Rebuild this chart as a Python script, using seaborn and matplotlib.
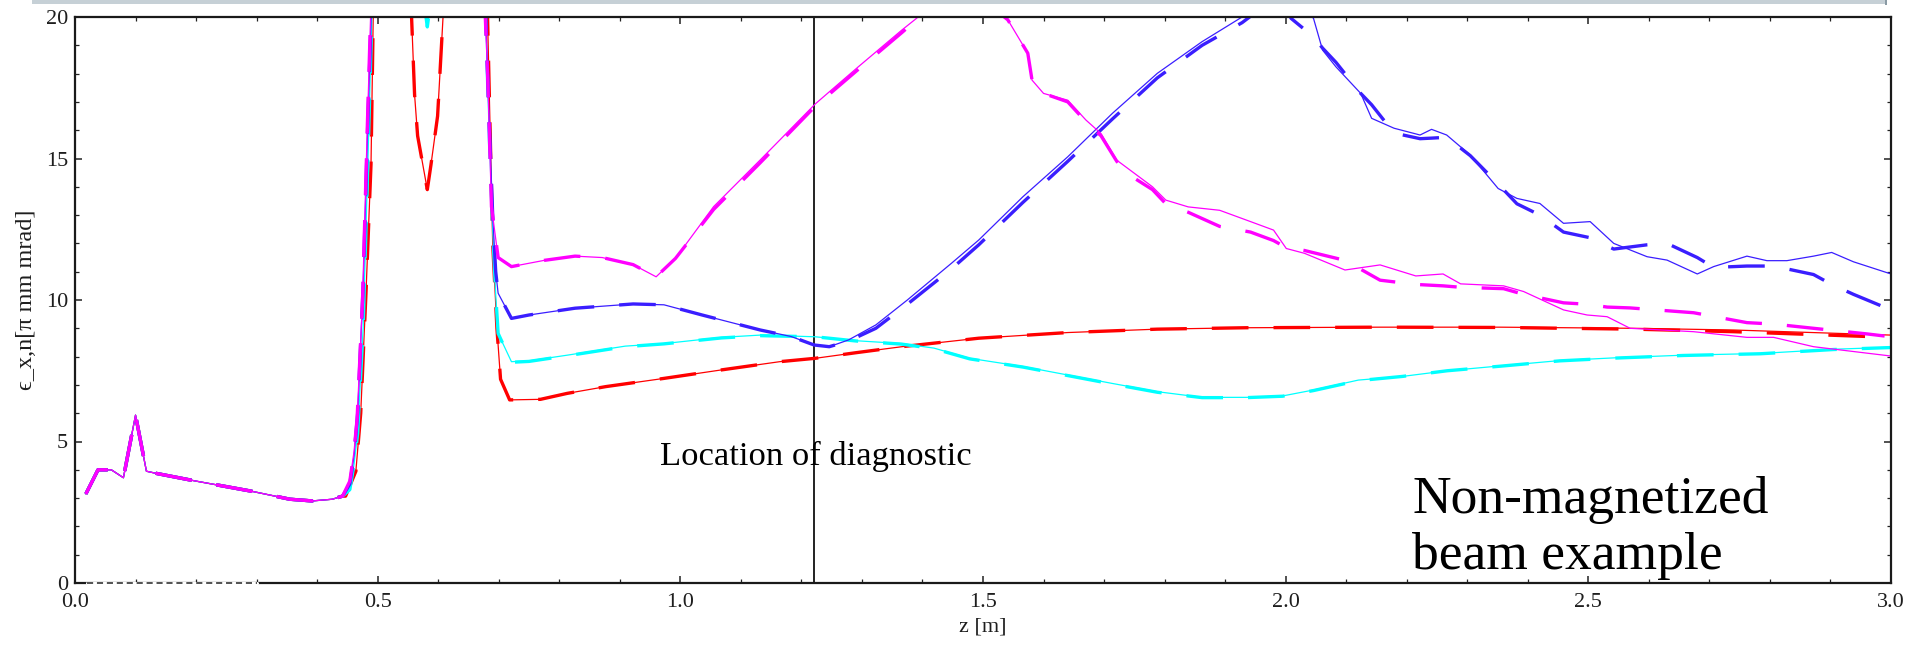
import numpy as np
import matplotlib
matplotlib.use("Agg")
import matplotlib.pyplot as plt
from matplotlib.patches import Rectangle
import seaborn as sns

# ---- shared entry section (all runs coincide up to z ~ 0.44 m) ----
z_entry = [0.018, 0.038, 0.060, 0.080, 0.100, 0.118, 0.135, 0.200, 0.290, 0.355, 0.392, 0.425, 0.442]
eps_entry = [3.15, 4.00, 4.00, 3.72, 5.93, 3.95, 3.87, 3.60, 3.25, 2.96, 2.90, 2.96, 3.07]

# ---- red run ----
z_red = [0.447, 0.464, 0.472, 0.481, 0.489, 0.493, 0.52, 0.552, 0.556, 0.561, 0.566, 0.582, 0.588,
         0.599, 0.608, 0.612, 0.65, 0.681, 0.690, 0.697, 0.703, 0.718, 0.769, 0.813, 0.877, 0.973,
         1.068, 1.164, 1.223, 1.291, 1.366, 1.493, 1.640, 1.788, 1.935, 2.156, 2.354, 2.575, 2.740, 3.0]
eps_red_solid = [3.07, 3.95, 6.0, 10.4, 14.8, 20.5, 28.0, 21.0, 20.0, 17.25, 15.8, 13.9, 14.77,
                 16.5, 20.0, 21.0, 28.0, 20.5, 12.0, 9.0, 7.2, 6.47, 6.49, 6.70, 6.94, 7.23,
                 7.53, 7.82, 7.94, 8.14, 8.35, 8.65, 8.85, 8.97, 9.02, 9.04, 9.04, 9.00, 8.94, 8.76]
eps_red_dashed = [3.07, 3.95, 6.0, 10.4, 14.8, 20.5, 28.0, 21.0, 20.0, 17.25, 15.8, 13.9, 14.77,
                  16.5, 20.0, 21.0, 28.0, 20.5, 12.0, 9.0, 7.2, 6.47, 6.49, 6.70, 6.94, 7.23,
                  7.53, 7.82, 7.94, 8.14, 8.35, 8.65, 8.85, 8.97, 9.02, 9.04, 9.03, 8.97, 8.88, 8.68]

# ---- cyan run ----
z_cyan = [0.454, 0.461, 0.467, 0.476, 0.484, 0.491, 0.53, 0.575, 0.582, 0.589, 0.63, 0.677, 0.684,
          0.690, 0.695, 0.699, 0.721, 0.750, 0.813, 0.909, 0.973, 1.068, 1.132, 1.223, 1.291, 1.366,
          1.419, 1.478, 1.566, 1.640, 1.714, 1.788, 1.862, 1.935, 1.995, 2.046, 2.120, 2.193, 2.267,
          2.354, 2.453, 2.547, 2.657, 2.784, 2.905, 3.0]
eps_cyan_solid = [3.3, 4.2, 5.3, 9.0, 15.0, 20.5, 28.0, 20.8, 19.65, 20.8, 28.0, 21.0, 16.0,
                  12.5, 10.2, 8.82, 7.82, 7.85, 8.05, 8.37, 8.46, 8.68, 8.76, 8.70, 8.56, 8.46,
                  8.30, 7.94, 7.65, 7.35, 7.05, 6.76, 6.56, 6.56, 6.61, 6.82, 7.17, 7.30, 7.50,
                  7.67, 7.86, 7.96, 8.05, 8.11, 8.26, 8.33]
eps_cyan_dashed = [3.3, 4.2, 5.3, 9.0, 15.0, 20.5, 28.0, 20.8, 19.65, 20.8, 28.0, 21.0, 16.0,
                   12.5, 10.2, 8.82, 7.80, 7.83, 8.03, 8.35, 8.45, 8.66, 8.74, 8.70, 8.55, 8.44,
                   8.28, 7.92, 7.63, 7.33, 7.03, 6.74, 6.55, 6.55, 6.60, 6.80, 7.15, 7.30, 7.50,
                   7.66, 7.85, 7.95, 8.04, 8.10, 8.25, 8.32]

# ---- blue run ----
z_blue = [0.454, 0.461, 0.467, 0.476, 0.484, 0.490, 0.52, 0.60, 0.65, 0.677, 0.684, 0.690, 0.695,
          0.699, 0.721, 0.750, 0.826, 0.922, 0.973, 1.036, 1.132, 1.183, 1.221, 1.246, 1.278, 1.323,
          1.375, 1.448, 1.493, 1.566, 1.640, 1.714, 1.788, 1.862, 1.928, 1.990, 2.009, 2.046, 2.061,
          2.083, 2.124, 2.142, 2.179, 2.222, 2.241, 2.266, 2.305, 2.351, 2.382, 2.420, 2.459, 2.503,
          2.542, 2.597, 2.630, 2.680, 2.707, 2.762, 2.795, 2.828, 2.872, 2.902, 2.938, 3.0]
eps_blue_solid = [3.5, 4.5, 6.0, 10.5, 16.5, 20.5, 30.0, 30.0, 28.0, 21.0, 16.5, 13.0, 11.0,
                  10.24, 9.35, 9.47, 9.71, 9.86, 9.83, 9.47, 8.94, 8.71, 8.41, 8.35, 8.59, 9.12,
                  10.0, 11.3, 12.12, 13.65, 15.06, 16.6, 18.01, 19.13, 20.0, 21.2, 20.8, 19.95, 18.83,
                  18.24, 17.3, 16.42, 16.07, 15.83, 16.03, 15.83, 15.12, 13.94, 13.59, 13.41, 12.71, 12.77,
                  12.0, 11.53, 11.41, 10.92, 11.18, 11.55, 11.39, 11.39, 11.55, 11.68, 11.35, 10.92]
eps_blue_dashed = [3.5, 4.5, 6.0, 10.5, 16.5, 20.5, 30.0, 30.0, 28.0, 21.0, 16.5, 13.0, 11.0,
                   10.24, 9.35, 9.47, 9.71, 9.86, 9.83, 9.47, 8.94, 8.71, 8.41, 8.35, 8.55, 9.0,
                   9.85, 11.1, 11.95, 13.45, 14.9, 16.4, 17.85, 19.0, 19.8, 20.8, 19.95, 19.3, 18.9,
                   18.4, 17.3, 16.9, 15.9, 15.7, 15.72, 15.75, 15.1, 14.1, 13.4, 13.0, 12.4, 12.2,
                   11.8, 11.95, 12.0, 11.5, 11.15, 11.2, 11.2, 11.1, 10.9, 10.55, 10.2, 9.65]

# ---- magenta run ----
z_magenta = [0.454, 0.461, 0.466, 0.475, 0.483, 0.489, 0.52, 0.58, 0.64, 0.676, 0.682, 0.688, 0.696,
             0.699, 0.721, 0.775, 0.826, 0.871, 0.922, 0.960, 0.992, 1.055, 1.132, 1.223, 1.294, 1.366,
             1.390, 1.460, 1.541, 1.574, 1.581, 1.600, 1.640, 1.670, 1.695, 1.721, 1.743, 1.780, 1.802,
             1.839, 1.891, 1.942, 1.980, 2.001, 2.031, 2.098, 2.156, 2.215, 2.260, 2.289, 2.360, 2.393,
             2.459, 2.498, 2.531, 2.569, 2.674, 2.762, 2.806, 2.872, 2.961, 3.0]
eps_magenta_solid = [3.6, 4.65, 5.8, 10.0, 16.2, 20.5, 28.0, 30.0, 28.0, 21.0, 17.7, 13.3, 12.0,
                     11.5, 11.18, 11.4, 11.55, 11.5, 11.25, 10.82, 11.47, 13.3, 14.95, 16.93, 18.24, 19.54,
                     19.95, 21.3, 19.9, 18.72, 17.77, 17.3, 17.06, 16.36, 15.88, 14.94, 14.59, 14.0, 13.53,
                     13.29, 13.17, 12.77, 12.47, 11.82, 11.65, 11.06, 11.24, 10.85, 10.92, 10.57, 10.5, 10.3,
                     9.65, 9.47, 9.41, 9.0, 8.88, 8.68, 8.68, 8.35, 8.12, 8.02]
eps_magenta_dashed = [3.6, 4.65, 5.8, 10.0, 16.2, 20.5, 28.0, 30.0, 28.0, 21.0, 17.7, 13.3, 12.0,
                      11.5, 11.18, 11.4, 11.55, 11.5, 11.25, 10.82, 11.47, 13.2, 14.85, 16.85, 18.15, 19.45,
                      19.9, 21.3, 19.9, 18.72, 17.77, 17.3, 17.0, 16.3, 15.8, 14.9, 14.4, 13.9, 13.4,
                      13.1, 12.6, 12.4, 12.1, 11.85, 11.75, 11.4, 10.7, 10.55, 10.5, 10.45, 10.4, 10.2,
                      9.9, 9.85, 9.75, 9.72, 9.55, 9.2, 9.15, 9.0, 8.8, 8.7]

# reference track along the floor of the plot
z_floor = [0.02, 0.30]
eps_floor = [0.0, 0.0]

# diagnostic position and axis ticks
z_diagnostic = 1.22
x_ticks = [0.0, 0.5, 1.0, 1.5, 2.0, 2.5, 3.0]
x_ticklabels = ["0.0", "0.5", "1.0", "1.5", "2.0", "2.5", "3.0"]
y_ticks = [0, 5, 10, 15, 20]
y_ticklabels = ["0", "5", "10", "15", "20"]

colors = {
    "red": "#ff0000",
    "cyan": "#00ffff",
    "blue": "#3a1eff",
    "magenta": "#ff00ff",
}

sns.set_theme(style="ticks")
serif = ["Liberation Serif", "DejaVu Serif"]
plt.rcParams["font.family"] = serif

W, H = 1907, 648
fig = plt.figure(figsize=(W / 100, H / 100), dpi=100)
fig.patch.set_facecolor("white")
ax = fig.add_axes([75 / W, 1 - 583 / H, (1891 - 75) / W, (583 - 17) / H])
ax.set_facecolor("white")

# thin grey-blue band along the top edge of the figure
fig.add_artist(Rectangle((32 / W, 1 - 4 / H), (1887 - 32) / W, 4 / H,
                         transform=fig.transFigure, facecolor="#c6d0d6",
                         edgecolor="none", zorder=0))
fig.add_artist(Rectangle((1885 / W, 1 - 5 / H), 2 / W, 5 / H,
                         transform=fig.transFigure, facecolor="#8a9aa4",
                         edgecolor="none", zorder=0))

dash_style = (0, (11, 7.5))

series = [
    ("red", z_red, eps_red_solid, eps_red_dashed),
    ("cyan", z_cyan, eps_cyan_solid, eps_cyan_dashed),
    ("blue", z_blue, eps_blue_solid, eps_blue_dashed),
    ("magenta", z_magenta, eps_magenta_solid, eps_magenta_dashed),
]

for name, z, solid, dashed in series:
    zz = np.concatenate([z_entry, z])
    sns.lineplot(x=zz, y=np.concatenate([eps_entry, dashed]), ax=ax, color=colors[name],
                 lw=2.4, linestyle=dash_style, sort=False, estimator=None)
    sns.lineplot(x=zz, y=np.concatenate([eps_entry, solid]), ax=ax, color=colors[name],
                 lw=0.9, sort=False, estimator=None)

# floor track drawn over the lower spine
ax.plot(z_floor, eps_floor, color="white", lw=2.2, zorder=3, clip_on=False)
ax.plot(z_floor, eps_floor, color="#222222", lw=1.1, ls=(0, (4, 2.5)), zorder=3.1, clip_on=False)

ax.axvline(z_diagnostic, color="#111111", lw=1.3, zorder=1.5)

ax.set_xlim(0, 3.0)
ax.set_ylim(0, 20)
ax.set_xticks(x_ticks)
ax.set_xticklabels(x_ticklabels)
ax.set_yticks(y_ticks)
ax.set_yticklabels(y_ticklabels)
ax.set_xticks(np.arange(0, 3.01, 0.1), minor=True)
ax.set_yticks(np.arange(0, 20.1, 1), minor=True)

ax.tick_params(which="both", direction="in", top=True, right=True, color="#222222",
               labelcolor="#1e1e1e", labelsize=16)
ax.tick_params(which="major", length=5, width=1.1)
ax.tick_params(which="minor", length=3, width=0.9)
ax.tick_params(axis="x", which="major", pad=7.5)
ax.tick_params(axis="y", which="major", pad=5)

for sp in ax.spines.values():
    sp.set_color("#1a1a1a")
    sp.set_linewidth(1.6)
    sp.set_visible(True)

ax.set_xlabel("z [m]", fontsize=16, color="#1e1e1e", labelpad=4)
ax.set_ylabel("ϵ_x,n[π mm mrad]", fontsize=17.5, color="#1e1e1e", labelpad=6)

ax.text(0.966, 4.17, "Location of diagnostic", fontsize=24.8, color="black",
        ha="left", va="baseline")
ax.text(2.209, 2.47, "Non-magnetized", fontsize=38.5, color="black",
        ha="left", va="baseline")
ax.text(2.209, 0.49, "beam example", fontsize=38.5, color="black",
        ha="left", va="baseline")

fig.savefig("out.png", dpi=100, facecolor="white")
